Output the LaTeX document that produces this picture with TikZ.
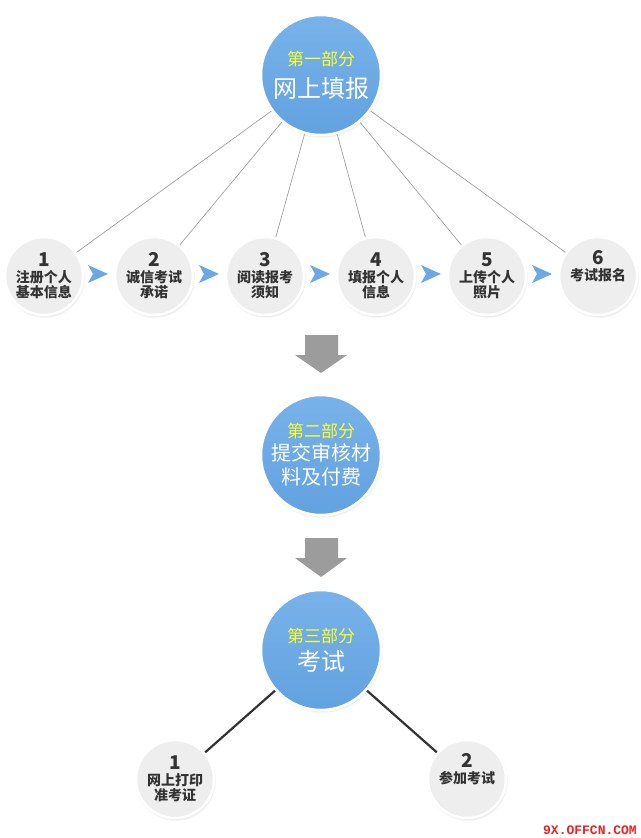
\documentclass[tikz,border=0pt]{standalone}
\usepackage{fontspec}
\setmainfont{Noto Sans CJK SC}
\newfontfamily\wmfont{Liberation Mono}
\usetikzlibrary{shadows}
\definecolor{bigblue}{HTML}{62A2E0}
\definecolor{bigtop}{HTML}{78B2EA}
\definecolor{smallgray}{HTML}{EEEEEF}
\definecolor{darktxt}{HTML}{333333}
\definecolor{linegray}{HTML}{A0A0A0}
\definecolor{darkline}{HTML}{333333}
\definecolor{arrowblue}{HTML}{6AA8E6}
\definecolor{downgray}{HTML}{9C9C9C}
\definecolor{titleyellow}{HTML}{FFFF22}
\definecolor{wmred}{HTML}{F02020}
\tikzset{
  bigc/.style={circle, minimum size=120pt, inner sep=0pt, draw=white, line width=2.5pt,
    top color=bigtop, bottom color=bigblue, text=white, align=center,
    circular drop shadow={shadow xshift=0.5pt, shadow yshift=-1.5pt, opacity=0.45, shadow scale=1.03}},
  smallc/.style={circle, minimum size=78pt, inner sep=0pt, draw=white, line width=2.5pt,
    fill=smallgray, text=darktxt, align=center, font=\bfseries\fontsize{14}{15}\selectfont,
    circular drop shadow={shadow xshift=0.5pt, shadow yshift=-1.5pt, opacity=0.4, shadow scale=1.04}},
  conn/.style={draw=linegray, line width=0.7pt},
  boldconn/.style={draw=darkline, line width=2.2pt},
  bluearrow/.style={fill=arrowblue},
  downarrow/.style={fill=downgray},
}
\newcommand{\numl}[1]{{\fontsize{19}{18}\selectfont #1}}
\newcommand{\partl}[1]{{\fontsize{17}{19}\selectfont\color{titleyellow}#1}}
\begin{document}
\begin{tikzpicture}[x=1pt,y=-1pt]
\useasboundingbox (0,0) rectangle (640,838);
\fill[white] (0,0) rectangle (640,838);

% connectors first (behind circles)
\coordinate (Pc) at (321,75);
\foreach \i/\x in {1/44,2/154,3/265,4/376,5/487,6/598}{
  \coordinate (c\i) at (\x,276);
}
\foreach \i in {1,...,6}{
  \path[conn] (Pc) -- (c\i);
}
\path[boldconn] (321,650) -- (175,779);
\path[boldconn] (321,650) -- (467,779);

% big circles
\node[bigc, font=\fontsize{24}{30}\selectfont] (P1) at (321,75) {\partl{第一部分}\\[2pt]网上填报};
\node[bigc, font=\fontsize{20}{24}\selectfont] (P2) at (321,455) {\partl{第二部分}\\[-1pt]提交审核材\\料及付费};
\node[bigc, font=\fontsize{24}{28}\selectfont] (P3) at (321,650) {\partl{第三部分}\\考试};

% small circles
\node[smallc] (s1) at (44,276) {\numl{1}\\[1pt]注册个人\\基本信息};
\node[smallc] (s2) at (154,276) {\numl{2}\\[1pt]诚信考试\\承诺};
\node[smallc] (s3) at (265,276) {\numl{3}\\[1pt]阅读报考\\须知};
\node[smallc] (s4) at (376,276) {\numl{4}\\[1pt]填报个人\\信息};
\node[smallc] (s5) at (487,276) {\numl{5}\\[1pt]上传个人\\照片};
\node[smallc] (s6) at (598,276) {\numl{6}\\[1pt]考试报名\\[6pt]};

\node[smallc] (b1) at (175,779) {\numl{1}\\[1pt]网上打印\\准考证};
\node[smallc] (b2) at (467,779) {\numl{2}\\[1pt]参加考试\\[6pt]};

% blue step arrows
\foreach \x in {98,209,320,431,542}{
  \fill[bluearrow] (\x-10,265) -- (\x+10,274) -- (\x-10,283) -- (\x-5,274) -- cycle;
}

% gray down arrows
\fill[downgray] (305,335) -- (338,335) -- (338,355) -- (347,355) -- (321,373) -- (295,355) -- (305,355) -- cycle;
\fill[downgray] (305,538) -- (338,538) -- (338,558) -- (347,558) -- (321,577) -- (295,558) -- (305,558) -- cycle;

% watermark
\node[text=wmred, font=\wmfont\bfseries\fontsize{13}{13}\selectfont, anchor=base] (wm) at (590,834) {9X.OFFCN.COM};
\end{tikzpicture}
\end{document}
